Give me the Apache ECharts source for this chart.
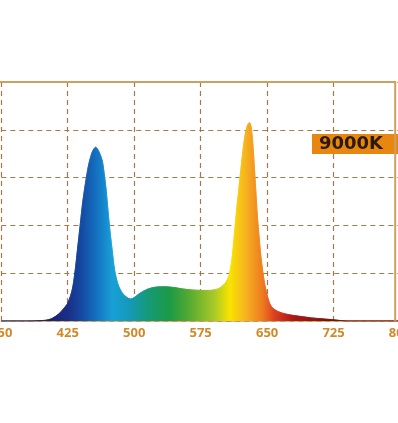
<!DOCTYPE html>
<html>
<head>
<meta charset="utf-8">
<script src="https://cdn.jsdelivr.net/npm/echarts@6/dist/echarts.min.js"></script>
<style>
  html, body { margin: 0; padding: 0; background: #fff; }
  #chart { width: 398px; height: 423px; }
</style>
</head>
<body>
<div id="chart"></div>
<script>
// wavelength (nm) and relative intensity
const wavelengths = [350, 380, 400, 407, 415, 420, 425, 430, 433, 436, 439, 442, 446, 449, 453, 456.5,
    460, 464, 466, 468, 470, 472, 475, 478, 482, 487, 492, 496, 500, 506, 515, 525, 535, 545, 555,
    565, 575, 585, 595, 600, 604, 607, 610, 612, 614, 616, 618, 620, 622, 624, 626, 628, 630, 631.5,
    633, 634.5, 636, 637.5, 639, 641, 643, 645, 647, 649, 651, 653, 656, 662, 670, 680, 690, 700,
    712, 725, 740, 800];
const intensity = [0, 0, 0.3, 1, 3, 5, 7.5, 13, 20, 30, 40, 50, 60, 66, 71, 72.7,
    71, 67, 62, 56, 48, 40, 30, 21, 15, 11.5, 9.8, 9.2, 9.8, 11.5, 13.3, 14.2, 14.3, 14, 13.4,
    13, 12.8, 12.8, 13.5, 14.8, 16.5, 19, 25, 32, 40, 48, 55, 62, 69, 75, 79.5, 82, 83, 82,
    78, 71, 62, 53, 44, 35, 27, 21, 16, 12.5, 9.5, 7.3, 5.5, 4, 3, 2.3, 1.8, 1.3,
    0.9, 0.5, 0, 0];
const tickLabels = [350, 425, 500, 575, 650, 725, 800];
const colorTemp = '9000K';

const xMin = 350, xMax = 800, frameEnd = 794.6;

// spectrum colours by wavelength
const spectrum = [
    [400, '#1a1f6e'], [425, '#1b2e85'], [440, '#1448a0'], [460, '#1478c5'], [475, '#18a0d8'],
    [495, '#1598b8'], [515, '#159a78'], [540, '#1c9a45'], [560, '#50a832'], [590, '#a8c828'],
    [608, '#f8e400'], [625, '#f6b520'], [645, '#ee7a20'], [658, '#dc4020'], [680, '#a81818'],
    [720, '#7a1010']
];
const stops = spectrum.map(s => ({ offset: (s[0] - xMin) / (xMax - xMin), color: s[1] }));
const fill = new echarts.graphic.LinearGradient(0, 0, 1, 0, stops);

const gold = '#c9a261';
const labelColor = '#d08a2a';

const chart = echarts.init(document.getElementById('chart'));

const option = {
    animation: false,
    grid: { left: 1.3, top: 82, width: 398.7, height: 239, containLabel: false, outerBoundsMode: 'none' },
    title: {
        text: colorTemp,
        left: 312, top: 134,
        backgroundColor: '#e8870f',
        padding: [1, 20, 0, 7],
        textStyle: { fontFamily: 'DejaVu Sans', fontWeight: 'bold', fontSize: 18, color: '#2b1a08', lineHeight: 19 }
    },
    xAxis: {
        type: 'value', min: xMin, max: xMax, interval: 75,
        axisLine: { lineStyle: { color: gold, width: 1.5 } },
        axisTick: { show: false },
        axisLabel: {
            margin: 6, showMinLabel: true, showMaxLabel: true, hideOverlap: false,
            color: labelColor, fontFamily: 'Open Sans', fontWeight: 'bold', fontSize: 13,
            formatter: v => tickLabels.includes(v) ? String(v) : ''
        },
        splitLine: { show: true, lineStyle: { color: '#a07c4c', type: [5, 4], width: 1.2 } }
    },
    yAxis: {
        type: 'value', min: 0, max: 100, interval: 20,
        axisLine: { show: false }, axisTick: { show: false }, axisLabel: { show: false },
        splitLine: { show: true, lineStyle: { color: '#a07c4c', type: [5, 4], width: 1.2 } }
    },
    series: [{
        type: 'line',
        data: wavelengths.map((w, i) => [w, intensity[i]]),
        smooth: 0.3,
        symbol: 'none',
        lineStyle: { width: 0.8, color: fill },
        areaStyle: { color: fill, opacity: 1 }
    }]
};
chart.setOption(option);

// frame: solid top and right edge
const tl = chart.convertToPixel({ gridIndex: 0 }, [xMin, 100]);
const tr = chart.convertToPixel({ gridIndex: 0 }, [frameEnd, 100]);
const br = chart.convertToPixel({ gridIndex: 0 }, [frameEnd, 0]);
chart.setOption({
    graphic: [{
        type: 'polyline',
        shape: { points: [[0, tl[1]], tr, br] },
        style: { stroke: gold, lineWidth: 2, fill: null },
        z: 10
    }]
});
</script>
</body>
</html>
